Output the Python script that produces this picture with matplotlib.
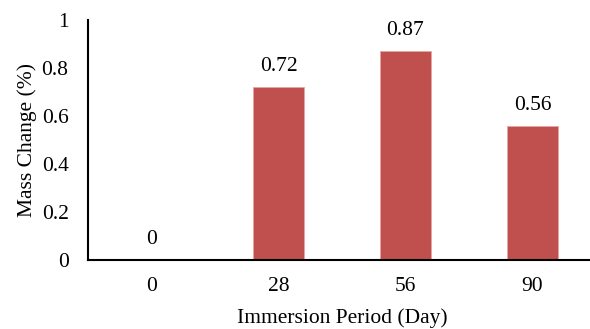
import matplotlib.pyplot as plt

# Data
periods = ['0', '28', '56', '90']
mass_change = [0, 0.72, 0.87, 0.56]
value_labels = ['0', '0.72', '0.87', '0.56']

plt.rcParams['font.family'] = ['Liberation Serif', 'DejaVu Serif']
fs = 15.5

fig = plt.figure(figsize=(5.9, 3.29), dpi=100)
ax = fig.add_axes([88 / 590, 69 / 329, 1 - 88 / 590 + 0.01, 240 / 329])

x = range(len(periods))
ax.bar(x, mass_change, width=0.4, color='#C0504D', edgecolor='#E8A5A3', linewidth=0.6)

for xi, v, lab in zip(x, mass_change, value_labels):
    ax.text(xi, v + 0.045, lab, ha='center', va='bottom', fontsize=fs)

ax.set_xlim(-0.5, 3.5)
ax.set_ylim(0, 1)
ax.set_yticks([0, 0.2, 0.4, 0.6, 0.8, 1])
ax.set_yticklabels(['0', '0.2', '0.4', '0.6', '0.8', '1'])
ax.set_xticks(list(x))
ax.set_xticklabels(periods)
ax.tick_params(axis='both', length=0, labelsize=fs)
ax.tick_params(axis='x', pad=12)
ax.tick_params(axis='y', pad=14)

ax.spines['top'].set_visible(False)
ax.spines['right'].set_visible(False)
ax.spines['left'].set_linewidth(1.5)
ax.spines['bottom'].set_linewidth(1.5)

ax.set_xlabel('Immersion Period (Day)', fontsize=fs, labelpad=9)
ax.set_ylabel('Mass Change (%)', fontsize=fs, labelpad=3)

fig.savefig('out.png', dpi=100)
